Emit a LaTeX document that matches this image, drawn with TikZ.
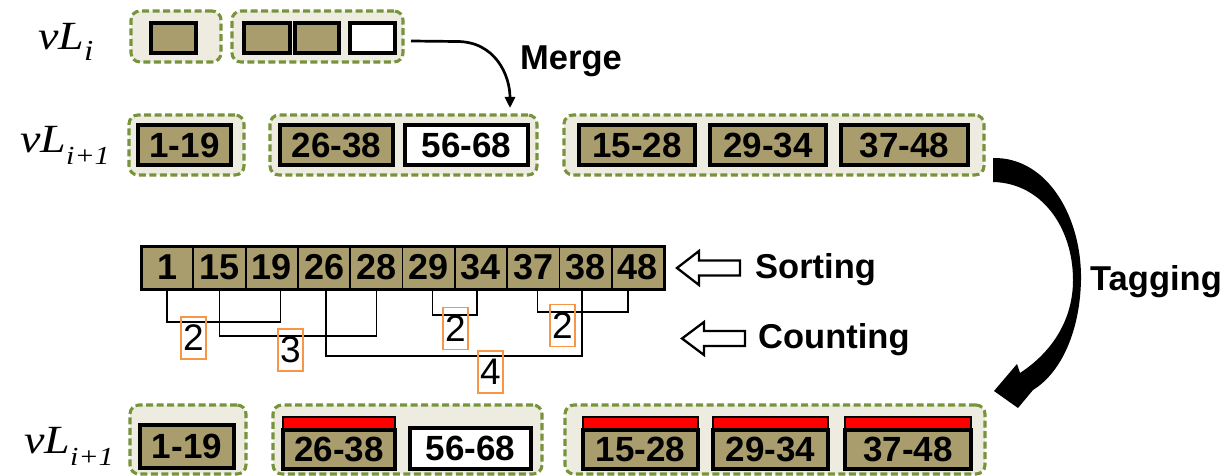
\documentclass[tikz,border=0pt]{standalone}
\usepackage{fontspec}
\usepackage{graphicx}
\setmainfont{Liberation Sans}
\newfontfamily\vlfont{Liberation Serif}
\usetikzlibrary{arrows.meta}
\definecolor{grpfill}{HTML}{EEECE1}
\definecolor{grpline}{HTML}{77933C}
\definecolor{khaki}{HTML}{A99D6D}
\definecolor{cntorange}{HTML}{F79646}
\definecolor{tagred}{HTML}{FF0000}
\newcommand\lblfont{\fontsize{35}{35}\selectfont\bfseries}
\newcommand\arrfont{\fontsize{36}{36}\selectfont\bfseries}
\newcommand\capfont{\fontsize{34.5}{34.5}\selectfont\bfseries}
\newcommand\boxat[7]{%
  \node[#1, minimum width={(#5)-(#3)}, minimum height={(#6)-(#4)}] (#2)
    at ({((#3)+(#5))/2},{((#4)+(#6))/2}) {#7};}
\begin{document}
\begin{tikzpicture}[x=1pt,y=-1pt,
  grp/.style={draw=grpline, line width=3.1pt, dash pattern=on 7pt off 3.5pt,
    fill=grpfill, rounded corners=9pt, inner sep=0pt, outer sep=0pt},
  cellbox/.style={draw=black, line width=3.1pt, fill=khaki, inner sep=0pt,
    outer sep=0pt, font=\lblfont},
  wbox/.style={cellbox, fill=white},
  tagbar/.style={draw=black, line width=2.8pt, fill=tagred, inner sep=0pt, outer sep=0pt},
  arrcell/.style={draw=black, line width=1.8pt, fill=khaki, inner sep=0pt,
    outer sep=0pt, minimum width=52.3pt, minimum height=43pt, font=\arrfont},
  brk/.style={draw=black, line width=1.4pt},
  cnt/.style={draw=cntorange, line width=1.4pt, minimum width=25pt,
    minimum height=42pt, inner sep=0pt, font=\fontsize{37}{37}\selectfont},
  caption/.style={anchor=base west, inner sep=0pt, font=\capfont},
  blockarrow/.style={draw=black, fill=white, line width=2.3pt, line join=miter},
  mergearrow/.style={draw=black, line width=2.7pt, -{Triangle[length=11pt,width=10pt]}},
  vl/.style={anchor=base west, inner sep=0pt}
]
\useasboundingbox (0,0) rectangle (1229,476);
\fill[white] (0,0) rectangle (1229,476);

% ---------- labels vL ----------
\node[vl] (vli) at (38,50) {\scalebox{1.15}[1]{\vlfont\itshape\fontsize{40}{40}\selectfont vL\raisebox{-11pt}{\fontsize{29}{29}\selectfont i}}};
\node[vl] (vlia) at (20,153) {\scalebox{1.15}[1]{\vlfont\itshape\fontsize{40}{40}\selectfont vL\raisebox{-12pt}{\fontsize{26}{26}\selectfont i+1}}};
\node[vl] (vlib) at (24,453) {\scalebox{1.15}[1]{\vlfont\itshape\fontsize{40}{40}\selectfont vL\raisebox{-12pt}{\fontsize{26}{26}\selectfont i+1}}};

% ---------- row 1 ----------
\boxat{grp}{A1}{131}{11}{221}{62}{}
\boxat{cellbox}{a1}{151}{23}{196}{53}{}
\boxat{grp}{A2}{232}{11}{403}{62}{}
\boxat{cellbox}{a2}{244}{23}{290}{53}{}
\boxat{cellbox}{a3}{295}{23}{339}{53}{}
\boxat{wbox}{a4}{350}{23}{395}{53}{}

% ---------- row 2 ----------
\boxat{grp}{B1}{129}{115}{244}{175}{}
\boxat{cellbox}{b1}{138}{125}{231}{165}{1-19}
\boxat{grp}{B2}{270}{115}{537}{175}{}
\boxat{cellbox}{b2}{280}{125}{393}{165}{26-38}
\boxat{wbox}{b3}{405}{125}{528}{165}{56-68}
\boxat{grp}{C}{564}{115}{984}{175}{}
\boxat{cellbox}{b4}{579}{125}{695}{165}{15-28}
\boxat{cellbox}{b5}{710}{125}{826}{165}{29-34}
\boxat{cellbox}{b6}{841}{125}{968}{165}{37-48}

% merge arrow
\coordinate (mtip) at (510,108);
\draw[mergearrow] ([shift={(8,4.5)}]A2.east) -- (457,41.5)
  .. controls (495,41.5) and (510,75) .. (mtip);
\node[caption] (merge) at (520,70) {Merge};

% ---------- sorted array ----------
\foreach \v [count=\k] in {1,15,19,26,28,29,34,37,38,48}{
  \node[arrcell] (c\k) at ({141+52.3*(\k-0.5)},267.5) {\v};
}
\draw[black, line width=3pt] (c1.north west) rectangle (c10.south east);

% brackets
\draw[brk] (c1.south) -- ++(0,33) -| ([xshift=9pt]c3.south);
\draw[brk] (c2.south) -- ++(0,47) -| (c5.south);
\draw[brk] ([xshift=2pt]c4.south) -- ++(0,67) -| ([xshift=-3.5pt]c9.south);
\draw[brk] ([xshift=4pt]c6.south) -- ++(0,26) -| ([xshift=-4pt]c7.south);
\draw[brk] ([xshift=4pt]c8.south) -- ++(0,23) -| ([xshift=-10pt]c10.south);

% counts
\node[cnt] (n1) at (193.5,338) {2};
\node[cnt] (n2) at (290.5,350) {3};
\node[cnt] (n3) at (455.5,328.5) {2};
\node[cnt] (n4) at (562.5,325.5) {2};
\node[cnt] (n5) at (490.5,372) {4};

% sorting / counting arrows
\draw[blockarrow] (677,268) -- (699,251) -- (699,260.5) -- (740,260.5)
  -- (740,275.5) -- (699,275.5) -- (699,285) -- cycle;
\node[caption] (sorting) at (755,278) {Sorting};
\draw[blockarrow] (682,338.5) -- (704,322) -- (704,331) -- (745,331)
  -- (745,346) -- (704,346) -- (704,355) -- cycle;
\node[caption] (counting) at (758,348) {Counting};

% tagging arrow
\fill[black] (993,158) .. controls (1048,157) and (1082,218) .. (1081,280)
  .. controls (1080,330) and (1062,372) .. (1033,390)
  -- (1018,408) -- (994,391) -- (1017,364) -- (1020,373)
  .. controls (1052,352) and (1073,320) .. (1073,280)
  .. controls (1073,228) and (1042,183) .. (993,182) -- cycle;
\node[caption] (tagging) at (1090,290) {Tagging};

% ---------- row 4 ----------
\boxat{grp}{D1}{130}{405}{246}{474}{}
\boxat{cellbox}{d1}{140}{425}{234}{468}{1-19}
\boxat{grp}{D2}{273}{405}{542}{474}{}
\boxat{tagbar}{t1}{283}{417}{395}{430}{}
\boxat{cellbox}{d2}{283}{430}{395}{469}{26-38}
\boxat{wbox}{d3}{410}{428}{531}{469}{56-68}
\boxat{grp}{D3}{565}{405}{985}{474}{}
\boxat{tagbar}{t2}{583}{417}{698}{430}{}
\boxat{cellbox}{d4}{583}{430}{698}{469}{15-28}
\boxat{tagbar}{t3}{713}{417}{828}{430}{}
\boxat{cellbox}{d5}{713}{430}{828}{469}{29-34}
\boxat{tagbar}{t4}{845}{417}{971}{430}{}
\boxat{cellbox}{d6}{845}{430}{971}{469}{37-48}
\end{tikzpicture}
\end{document}
